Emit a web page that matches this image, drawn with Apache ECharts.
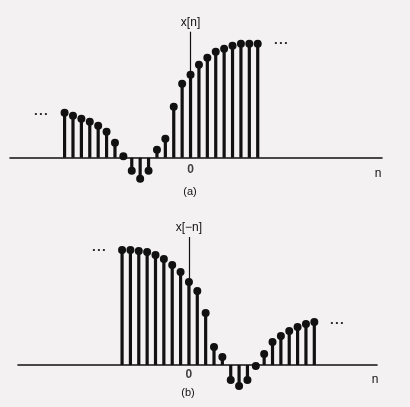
<!DOCTYPE html>
<html><head><meta charset="utf-8">
<script src="https://cdn.jsdelivr.net/npm/echarts@6/dist/echarts.min.js"></script>
<style>html,body{margin:0;padding:0;background:#f3f1f1}#c{width:410px;height:407px}</style>
</head><body><div id="c"></div>
<script>
// panel (a): x[n], n = -15..8 (arbitrary units)
const nA = [-15,-14,-13,-12,-11,-10,-9,-8,-7,-6,-5,-4,-3,-2,-1,0,1,2,3,4,5,6,7,8];
const xA = [4.5,4.2,3.9,3.6,3.2,2.6,1.5,0.15,-1.3,-2.1,-1.3,0.8,1.9,5.1,7.4,8.3,9.3,10.0,10.6,10.9,11.2,11.4,11.4,11.4];
// panel (b): x[-n], n = -8..15
const nB = [-8,-7,-6,-5,-4,-3,-2,-1,0,1,2,3,4,5,6,7,8,9,10,11,12,13,14,15];
const xB = [11.5,11.5,11.4,11.3,11.0,10.6,10.0,9.3,8.3,7.4,5.2,1.8,0.8,-1.5,-2.1,-1.5,-0.1,1.1,2.3,2.9,3.4,3.8,4.1,4.3];
const tickLabels = ['0'];
const tickValues = [0];
const labels = {a:'x[n]', b:'x[\u2212n]', axisVar:'n', capA:'(a)', capB:'(b)'};

const INK = '#111111';
const FONT = 'Liberation Sans';
function stems(xs, ys){ return xs.map((n,i)=>[n, ys[i]]); }
function renderStem(params, api){
  const p0 = api.coord([api.value(0), 0]);
  const p1 = api.coord([api.value(0), api.value(1)]);
  return {type:'group', children:[
    {type:'line', shape:{x1:p0[0], y1:p0[1], x2:p1[0], y2:p1[1]}, style:{stroke:INK, lineWidth:3.2}},
    {type:'circle', shape:{cx:p1[0], cy:p1[1], r:4}, style:{fill:INK}}
  ]};
}
function xAxisCfg(idx, min, max){
  return {type:'value', gridIndex:idx, min:min, max:max,
    axisLine:{onZero:true, lineStyle:{color:INK, width:1.6}},
    axisTick:{show:false}, splitLine:{show:false}, axisLabel:{show:false}};
}
function yAxisCfg(idx){
  return {type:'value', gridIndex:idx, min:-2, max:14, show:false, splitLine:{show:false}};
}
function axisMark(idx, top, text){
  return {type:'line', xAxisIndex:idx, yAxisIndex:idx, data:[], silent:true,
    markLine:{symbol:'none', silent:true, animation:false,
      lineStyle:{color:INK, width:1.2, type:'solid'},
      label:{show:true, position:'end', formatter:text, color:INK, fontSize:12, distance:3, fontFamily:FONT}},
      };
}
function tickSeries(idx, dist){
  return {type:'scatter', xAxisIndex:idx, yAxisIndex:idx, symbolSize:0, silent:true,
    data:tickValues.map((v,i)=>({value:[v,0], label:{formatter:tickLabels[i]}})),
    label:{show:true, position:'bottom', distance:dist, color:INK, fontSize:12, fontWeight:'bold', fontFamily:FONT}};
}
const txt = (x,y,t,size,w)=>({type:'text', x:x, y:y, style:{text:t, fill:INK, fontSize:size||12, fontWeight:w||'normal', fontFamily:FONT, align:'center', verticalAlign:'middle'}});

const mA = axisMark(0, 12.6, labels.a); mA.markLine.data = [[{coord:[0,0]},{coord:[0,12.6]}]];
const mB = axisMark(1, 12.8, labels.b); mB.markLine.data = [[{coord:[0,0]},{coord:[0,12.8]}]];

const chart = echarts.init(document.getElementById('c'));
chart.setOption({
  backgroundColor:'#f3f1f1',
  animation:false,
  grid:[
    {left:10, right:28, top:17.7, height:160},
    {left:18, right:33, top:225, height:160}
  ],
  xAxis:[xAxisCfg(0,-21.5,22.8), xAxisCfg(1,-20.45,22.5)],
  yAxis:[yAxisCfg(0), yAxisCfg(1)],
  series:[
    mA,
    {type:'custom', xAxisIndex:0, yAxisIndex:0, renderItem:renderStem, data:stems(nA,xA), silent:true},
    tickSeries(0, 6),
    mB,
    {type:'custom', xAxisIndex:1, yAxisIndex:1, renderItem:renderStem, data:stems(nB,xB), silent:true},
    tickSeries(1, 4)
  ],
  graphic:[
    txt(41,114,'\u2022 \u2022 \u2022',8),
    txt(281,43,'\u2022 \u2022 \u2022',8),
    txt(99,250,'\u2022 \u2022 \u2022',8),
    txt(337,323,'\u2022 \u2022 \u2022',8),
    txt(378,174,labels.axisVar),
    txt(375,380,labels.axisVar),
    txt(190,192,labels.capA,11),
    txt(188,393,labels.capB,11)
  ]
});
</script></body></html>
